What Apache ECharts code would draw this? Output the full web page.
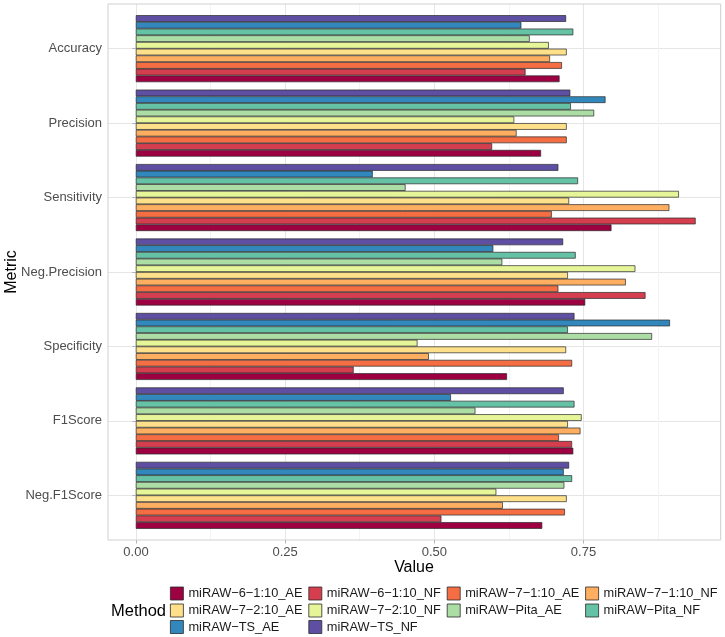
<!DOCTYPE html>
<html>
<head>
<meta charset="utf-8">
<script src="https://cdn.jsdelivr.net/npm/echarts@6/dist/echarts.min.js"></script>
<style>
html,body{margin:0;padding:0;background:#fff;}
#chart{width:725px;height:637px;}
</style>
</head>
<body>
<div id="chart"></div>
<script>
// ---- data ----
const metrics = ["Accuracy", "Precision", "Sensitivity", "Neg.Precision", "Specificity", "F1Score", "Neg.F1Score"];
const methods = ["miRAW−6−1:10_AE", "miRAW−6−1:10_NF", "miRAW−7−1:10_AE", "miRAW−7−1:10_NF",
                 "miRAW−7−2:10_AE", "miRAW−7−2:10_NF", "miRAW−Pita_AE", "miRAW−Pita_NF",
                 "miRAW−TS_AE", "miRAW−TS_NF"];
const m6_110_AE = [0.710, 0.679, 0.797, 0.753, 0.622, 0.733, 0.681];
const m6_110_NF = [0.653, 0.597, 0.938, 0.854, 0.365, 0.731, 0.512];
const m7_110_AE = [0.714, 0.722, 0.697, 0.708, 0.731, 0.709, 0.719];
const m7_110_NF = [0.694, 0.638, 0.894, 0.821, 0.491, 0.745, 0.615];
const m7_210_AE = [0.722, 0.722, 0.726, 0.724, 0.721, 0.724, 0.722];
const m7_210_NF = [0.692, 0.634, 0.910, 0.837, 0.472, 0.747, 0.604];
const pita_AE   = [0.660, 0.768, 0.452, 0.614, 0.865, 0.569, 0.718];
const pita_NF   = [0.733, 0.729, 0.741, 0.737, 0.724, 0.735, 0.731];
const ts_AE     = [0.646, 0.787, 0.397, 0.599, 0.895, 0.528, 0.717];
const ts_NF     = [0.721, 0.728, 0.708, 0.716, 0.735, 0.717, 0.726];
const seriesValues = [m6_110_AE, m6_110_NF, m7_110_AE, m7_110_NF, m7_210_AE, m7_210_NF, pita_AE, pita_NF, ts_AE, ts_NF];
const palette = ["#9E0142", "#D53E4F", "#F46D43", "#FDAE61", "#FEE08B", "#E6F598", "#ABDDA4", "#66C2A5", "#3288BD", "#5E4FA2"];
const majorTicks = [0, 0.25, 0.5, 0.75];

// ---- chart ----
const chart = echarts.init(document.getElementById('chart'), null, {renderer: 'canvas'});
const FONT = '"Liberation Sans", Arial, Helvetica, sans-serif';
const xMinPanel = -0.0466, xMax = 0.98;
const gridL = 108, gridR = 4.3, panelTop = 4, panelBottom = 97;
const band = (637 - panelTop - panelBottom) / 7.2;

const series = [];
for (let i = methods.length - 1; i >= 0; i--) {
  series.push({
    type: 'bar', name: methods[i], xAxisIndex: 3, yAxisIndex: 2,
    data: seriesValues[i], barGap: '0%', barCategoryGap: '10%', clip: false,
    itemStyle: {color: palette[i], borderColor: '#2a2a2a', borderWidth: 0.7},
    silent: true, animation: false
  });
}

const legendCommon = {
  orient: 'horizontal', left: 170, width: 600, itemWidth: 13, itemHeight: 13, itemGap: 0, padding: 0,
  icon: 'rect', selectedMode: false,
  itemStyle: {borderColor: '#2a2a2a', borderWidth: 0.8},
  textStyle: {fontFamily: FONT, fontSize: 12.8, color: '#1a1a1a', width: 120, lineHeight: 15, overflow: 'none'}
};

chart.setOption({
  animation: false,
  backgroundColor: '#fff',
  grid: [
    {left: gridL, right: gridR, top: panelTop, bottom: panelBottom, show: true, borderColor: '#d0d0d0', borderWidth: 1, backgroundColor: 'transparent', z: 5},
    {left: 136, right: gridR, top: panelTop, bottom: panelBottom},
    {left: gridL, right: gridR, top: panelTop + 0.6 * band, bottom: panelBottom + 0.6 * band}
  ],
  xAxis: [
    {gridIndex: 0, type: 'value', min: xMinPanel, max: xMax, show: false},
    {gridIndex: 1, type: 'value', min: 0, max: xMax, interval: 0.125, position: 'top', z: 0,
     axisLine: {show: false}, axisTick: {show: false}, axisLabel: {show: false},
     splitLine: {show: true, lineStyle: {color: '#f3f3f3', width: 1}}},
    {gridIndex: 1, type: 'value', min: 0, max: xMax, interval: 0.25, position: 'bottom', z: 1,
     axisLine: {show: false},
     axisTick: {show: true, length: 3.5, lineStyle: {color: '#b3b3b3'}, customValues: majorTicks},
     axisLabel: {show: true, margin: 6, color: '#4d4d4d', fontSize: 13, fontFamily: FONT,
                 customValues: majorTicks, formatter: v => v.toFixed(2)},
     splitLine: {show: true, lineStyle: {color: '#e6e6e6', width: 1}}},
    {gridIndex: 2, type: 'value', min: xMinPanel, max: xMax, show: false}
  ],
  yAxis: [
    {gridIndex: 0, type: 'value', show: false},
    {gridIndex: 1, type: 'value', show: false},
    {gridIndex: 2, type: 'category', data: metrics, inverse: true, boundaryGap: false,
     axisLine: {show: false},
     axisTick: {show: true, length: 3.5, lineStyle: {color: '#b3b3b3'}},
     axisLabel: {margin: 6, color: '#4d4d4d', fontSize: 13, fontFamily: FONT, interval: 0},
     splitLine: {show: true, interval: 0, lineStyle: {color: '#e6e6e6', width: 1}}}
  ],
  legend: [
    Object.assign({}, legendCommon, {top: 586, data: methods.slice(0, 4)}),
    Object.assign({}, legendCommon, {top: 603, data: methods.slice(4, 8)}),
    Object.assign({}, legendCommon, {top: 619.5, data: methods.slice(8, 10)})
  ],
  graphic: [
    {type: 'text', x: 414, y: 568, style: {text: 'Value', font: '16px ' + FONT, fill: '#000', align: 'center', verticalAlign: 'middle'}},
    {type: 'text', x: 12, y: 272, rotation: Math.PI / 2, style: {text: 'Metric', font: '16px ' + FONT, fill: '#000', align: 'center', verticalAlign: 'middle'}},
    {type: 'text', x: 111, y: 611, style: {text: 'Method', font: '16.5px ' + FONT, fill: '#000', align: 'left', verticalAlign: 'middle'}}
  ],
  series: series
});
</script>
</body>
</html>
